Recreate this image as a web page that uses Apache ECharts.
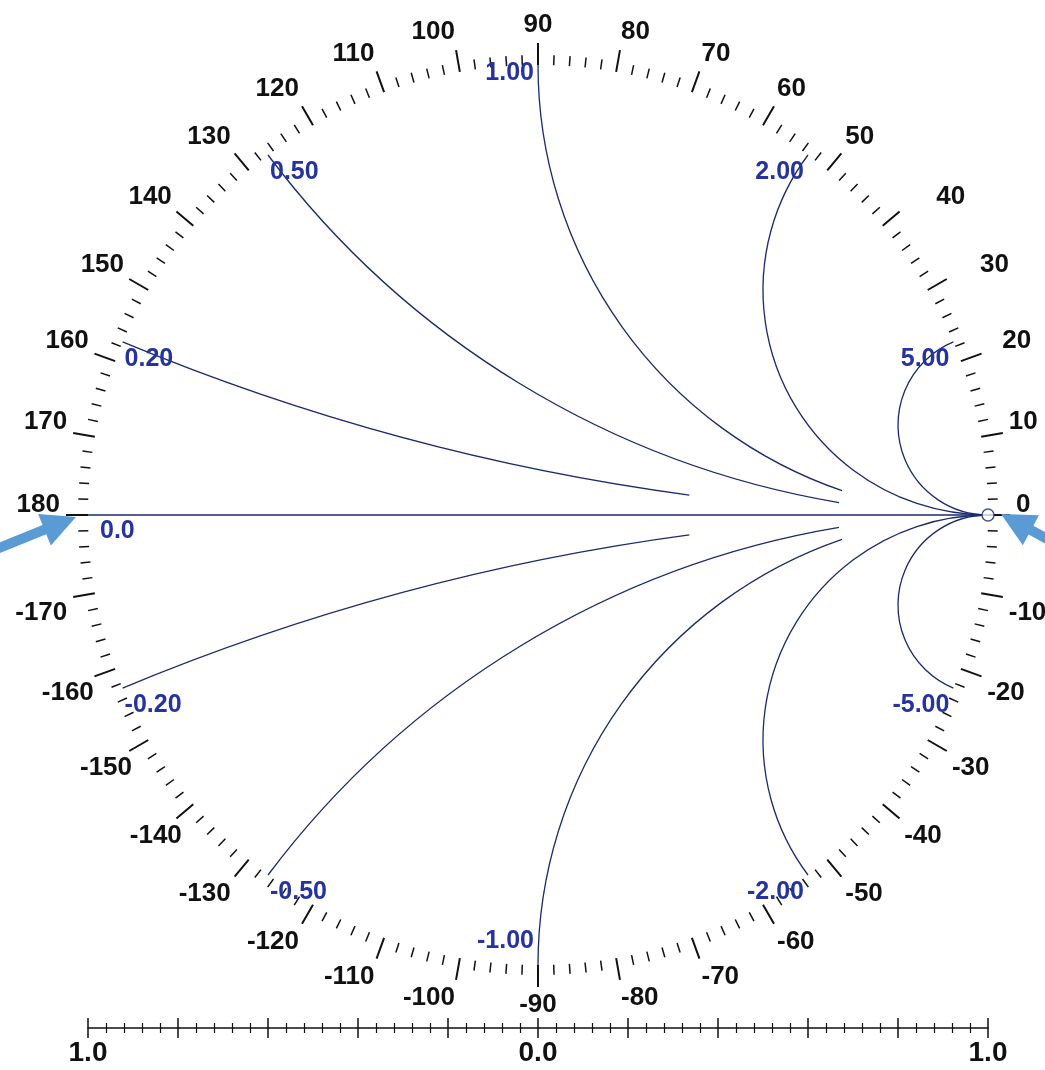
<!DOCTYPE html>
<html>
<head>
<meta charset="utf-8">
<script src="https://cdn.jsdelivr.net/npm/echarts@6/dist/echarts.min.js"></script>
<style>
  html, body { margin: 0; padding: 0; background: #ffffff; }
  #chart { width: 1045px; height: 1070px; }
</style>
</head>
<body>
<div id="chart"></div>
<script>
// Normalised reactance of each constant-reactance line
const reactances = [0, 0.2, 0.5, 1, 2, 5, -0.2, -0.5, -1, -2, -5];
// Resistance at which each line stops (Infinity = runs to the open-circuit point)
const arcEndResistance = [Infinity, 2, 5, 5, Infinity, Infinity, 2, 5, 5, Infinity, Infinity];
// Angle labels round the outer ring, degrees
const angleLabels = [0, 10, 20, 30, 40, 50, 60, 70, 80, 90, 100, 110, 120, 130, 140, 150, 160, 170, 180,
  -10, -20, -30, -40, -50, -60, -70, -80, -90, -100, -110, -120, -130, -140, -150, -160, -170];
// Magnitude scale under the chart
const scaleLabelValues = [-1, 0, 1];
const scaleLabelTexts = ['1.0', '0.0', '1.0'];
// Points marked by arrows: short circuit and open circuit
const arrowTargets = [[-1, 0], [1, 0]];
// Open-circuit marker
const markerPoints = [[1, 0]];

const NAVY = '#1b2a6b';
const LABEL_BLUE = '#2433a0';
const ARROW_BLUE = '#5b9bd5';
const FONT = '"Liberation Sans", Arial, sans-serif';

// reflection coefficient of z = r + jx
function gamma(r, x) {
  if (!isFinite(r)) return [1, 0];
  const d = (r + 1) * (r + 1) + x * x;
  return [(r * r - 1 + x * x) / d, (2 * x) / d];
}

function labelText(x) {
  return x === 0 ? '0.0' : x.toFixed(2);
}

// label sits beside the point where the line meets the rim
function labelPlacement(x, p) {
  if (x === 0) return { x: p[0] + 12, y: p[1] + 4, align: 'left' };
  const right = Math.abs(x) >= 1;
  let y = p[1] + 5;
  if (x === 1) y = p[1] - 4;
  if (x === -1) y = p[1] - 36;
  return { x: p[0] + (right ? -4 : 2), y: y, align: right ? 'right' : 'left' };
}

// ring label anchor radii, relative to the rim
const RING_LABEL_RX = 478 / 450;
const RING_LABEL_RY_UPPER = 480 / 450;
const RING_LABEL_RY_LOWER = 474 / 450;
// a few ring labels sit a little further out sideways (pixels)
const ringLabelShift = { '20': 15, '30': 28, '40': 32, '-140': 10, '-150': 8, '-160': 5 };

// arrow geometry, in pixels relative to the target point
const arrowStyle = [
  { dx: -12, dy: 2, angle: -22, head: 34, half: 17, body: 10, length: 110 },
  { dx: 13, dy: -1, angle: -151.6, head: 34, half: 17, body: 10, length: 110 }
];

const chart = echarts.init(document.getElementById('chart'), null, { renderer: 'canvas' });

const option = {
  animation: false,
  backgroundColor: '#ffffff',
  polar: { center: [538, 515], radius: 450 },
  radiusAxis: { min: 0, max: 1, show: false },
  angleAxis: {
    type: 'value',
    min: 0,
    max: 360,
    interval: 10,
    startAngle: 0,
    clockwise: false,
    axisLine: { show: false },
    splitLine: { show: false },
    axisLabel: { show: false },
    axisTick: { show: true, length: 22, lineStyle: { color: '#111', width: 2 } },
    minorTick: { show: true, splitNumber: 5, length: 10, lineStyle: { color: '#111', width: 1.5 } }
  },
  grid: [
    { left: 88, top: 65, width: 900, height: 900 },
    { left: 88, top: 1027, width: 900, height: 1 }
  ],
  xAxis: [
    { gridIndex: 0, type: 'value', min: -1, max: 1, show: false },
    {
      gridIndex: 1, type: 'value', min: -1, max: 1, interval: 0.2, position: 'bottom',
      axisLine: { show: true, lineStyle: { color: '#111', width: 1.5 } },
      axisTick: { show: true, inside: true, length: 10, lineStyle: { color: '#111', width: 1.5 } },
      minorTick: { show: true, splitNumber: 5, length: 5, lineStyle: { color: '#111', width: 1.2 } },
      axisLabel: { show: false },
      splitLine: { show: false }
    },
    {
      gridIndex: 1, type: 'value', min: -1, max: 1, interval: 0.2, position: 'bottom',
      axisLine: { show: false },
      axisTick: { show: true, inside: false, length: 10, lineStyle: { color: '#111', width: 1.5 } },
      minorTick: { show: true, splitNumber: 5, length: 5, lineStyle: { color: '#111', width: 1.2 } },
      axisLabel: {
        show: true, margin: 11, color: '#111', fontSize: 28, fontWeight: 'bold', fontFamily: FONT,
        showMinLabel: true, showMaxLabel: true,
        formatter: function (v) {
          for (let i = 0; i < scaleLabelValues.length; i++) {
            if (Math.abs(v - scaleLabelValues[i]) < 1e-6) return scaleLabelTexts[i];
          }
          return '';
        }
      },
      splitLine: { show: false }
    }
  ],
  yAxis: [
    { gridIndex: 0, type: 'value', min: -1, max: 1, show: false },
    { gridIndex: 1, type: 'value', min: 0, max: 1, show: false }
  ],
  series: [
    {
      // constant-reactance lines with their value labels
      type: 'custom',
      coordinateSystem: 'cartesian2d',
      xAxisIndex: 0,
      yAxisIndex: 0,
      clip: false,
      z: 3,
      data: reactances.map(function (x, i) { return [x, i]; }),
      renderItem: function (params, api) {
        const x = api.value(0);
        const rEnd = arcEndResistance[api.value(1)];
        const p0 = api.coord(gamma(0, x));
        const p1 = api.coord(gamma(rEnd, x));
        let line;
        if (x === 0) {
          line = {
            type: 'line',
            shape: { x1: p0[0], y1: p0[1], x2: p1[0], y2: p1[1] },
            style: { stroke: NAVY, lineWidth: 1.5 }
          };
        } else {
          const c = api.coord([1, 1 / x]);
          const rad = api.size([1 / Math.abs(x), 0])[0];
          const a0 = Math.atan2(p0[1] - c[1], p0[0] - c[0]);
          const a1 = Math.atan2(p1[1] - c[1], p1[0] - c[0]);
          line = {
            type: 'arc',
            shape: { cx: c[0], cy: c[1], r: rad, startAngle: a0, endAngle: a1, clockwise: x < 0 },
            style: { stroke: NAVY, fill: null, lineWidth: 1.3 }
          };
        }
        const lp = labelPlacement(x, p0);
        return {
          type: 'group',
          children: [
            line,
            {
              type: 'text',
              x: lp.x,
              y: lp.y,
              z2: 10,
              style: {
                text: labelText(x),
                fill: LABEL_BLUE,
                font: 'bold 25px ' + FONT,
                align: lp.align,
                verticalAlign: 'top'
              }
            }
          ]
        };
      }
    },
    {
      // degree labels round the ring
      type: 'custom',
      coordinateSystem: 'polar',
      clip: false,
      z: 4,
      data: angleLabels.map(function (a) { return [1, (a + 360) % 360]; }),
      renderItem: function (params, api) {
        const a = api.value(1);
        const label = angleLabels[params.dataIndex];
        const rad = a * Math.PI / 180;
        const c = Math.cos(rad);
        const s = Math.sin(rad);
        const upper = s > -1e-6;
        const px = api.coord([RING_LABEL_RX, a]);
        const py = api.coord([upper ? RING_LABEL_RY_UPPER : RING_LABEL_RY_LOWER, a]);
        const align = Math.abs(c) < 1e-6 ? 'center' : (c > 0 ? 'left' : 'right');
        const shift = ringLabelShift[String(label)] || 0;
        return {
          type: 'text',
          x: px[0] + shift,
          y: py[1] + 3,
          style: {
            text: String(label),
            fill: '#111',
            font: 'bold 26px ' + FONT,
            align: align,
            verticalAlign: upper ? 'bottom' : 'top'
          }
        };
      }
    },
    {
      type: 'scatter',
      xAxisIndex: 0,
      yAxisIndex: 0,
      clip: false,
      z: 5,
      symbol: 'circle',
      symbolSize: 12,
      data: markerPoints,
      itemStyle: { color: '#ffffff', borderColor: NAVY, borderWidth: 1.5 },
      silent: true
    },
    {
      // pointer arrows
      type: 'custom',
      coordinateSystem: 'cartesian2d',
      xAxisIndex: 0,
      yAxisIndex: 0,
      clip: false,
      z: 6,
      data: arrowTargets,
      renderItem: function (params, api) {
        const s = arrowStyle[params.dataIndex];
        const t = api.coord([api.value(0), api.value(1)]);
        const tip = [t[0] + s.dx, t[1] + s.dy];
        const a = s.angle * Math.PI / 180;
        const d = [Math.cos(a), Math.sin(a)];
        const n = [-d[1], d[0]];
        const base = [tip[0] - d[0] * s.head, tip[1] - d[1] * s.head];
        const tail = [tip[0] - d[0] * s.length, tip[1] - d[1] * s.length];
        return {
          type: 'group',
          children: [
            {
              type: 'line',
              shape: { x1: tail[0], y1: tail[1], x2: base[0] + d[0] * 2, y2: base[1] + d[1] * 2 },
              style: { stroke: ARROW_BLUE, lineWidth: s.body }
            },
            {
              type: 'polygon',
              shape: {
                points: [
                  tip,
                  [base[0] + n[0] * s.half, base[1] + n[1] * s.half],
                  [base[0] - n[0] * s.half, base[1] - n[1] * s.half]
                ]
              },
              style: { fill: ARROW_BLUE }
            }
          ]
        };
      }
    }
  ]
};

chart.setOption(option);
</script>
</body>
</html>
